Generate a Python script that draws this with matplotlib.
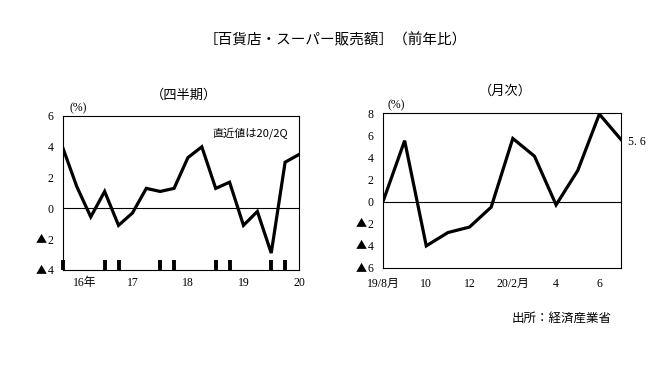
import matplotlib
matplotlib.use("Agg")
import matplotlib.pyplot as plt

plt.rcParams['font.family'] = ['Liberation Serif', 'Noto Sans CJK JP', 'DejaVu Sans']

# Quarterly data (16/1Q .. 20/2Q)
q_values = [3.9, 1.4, -0.55, 1.1, -1.1, -0.3, 1.3, 1.1, 1.3, 3.3, 4.0, 1.3, 1.7, -1.1, -0.2, -2.9, 3.0, 3.5]
q_label_idx = [1, 5, 9, 13, 17]
q_labels = ["16年", "17", "18", "19", "20"]
q_mark_idx = [0, 3, 4, 7, 8, 11, 12, 15, 16]
q_yticks = [-4, -2, 0, 2, 4, 6]
q_yticklabels = ["▲4", "▲2", "0", "2", "4", "6"]

# Monthly data (19/8 .. 20/7)
m_values = [0.0, 5.5, -4.0, -2.8, -2.3, -0.5, 5.7, 4.1, -0.3, 2.8, 7.9, 5.6]
m_label_idx = [0, 2, 4, 6, 8, 10]
m_labels = ["19/8月", "10", "12", "20/2月", "4", "6"]
m_yticks = [-6, -4, -2, 0, 2, 4, 6, 8]
m_yticklabels = ["▲6", "▲4", "▲2", "0", "2", "4", "6", "8"]

W, H = 672, 366
fig = plt.figure(figsize=(W / 100, H / 100), dpi=100)

def px_axes(x0, y0, x1, y1):
    return fig.add_axes([x0 / W, 1 - y1 / H, (x1 - x0) / W, (y1 - y0) / H])

fs_tick = 8.5
jp = ['Noto Sans CJK JP', 'DejaVu Sans']
PAD_PT = 7

def set_y_labels(ax, ticks, labels):
    ax.set_yticks(ticks)
    ax.set_yticklabels([l.lstrip("▲") for l in labels], fontsize=fs_tick)
    ax.tick_params(axis='y', length=0, pad=PAD_PT)
    tr = ax.get_yaxis_transform()
    for t, l in zip(ticks, labels):
        if l.startswith("▲"):
            ax.annotate("▲", xy=(0, t), xycoords=tr, xytext=(-PAD_PT - 5, -0.5),
                        textcoords='offset points', ha='right', va='center',
                        fontsize=8, family=jp, annotation_clip=False)

# ---- Left: quarterly ----
ax1 = px_axes(63, 116, 299, 270)
ax1.plot(range(len(q_values)), q_values, color='black', lw=2.3, solid_joinstyle='miter')
ax1.axhline(0, color='black', lw=0.8)
ax1.set_xlim(0, len(q_values) - 1)
ax1.set_ylim(-4, 6)
set_y_labels(ax1, q_yticks, q_yticklabels)
shift = [0.55, 0, 0, 0, 0]
ax1.set_xticks([i + s for i, s in zip(q_label_idx, shift)])
ax1.set_xticklabels(q_labels, fontsize=fs_tick)
ax1.set_xticks(q_mark_idx, minor=True)
ax1.tick_params(axis='x', which='major', length=0, pad=5)
ax1.tick_params(axis='x', which='minor', direction='in', length=7, width=2.8, color='black')
for sp in ax1.spines.values():
    sp.set_linewidth(0.8)
ax1.text(184 / W, 1 - 95 / H, "（四半期）", transform=fig.transFigure, ha='center', va='center',
         fontsize=9.5, family=jp)
ax1.text(78 / W, 1 - 108 / H, "(%)", transform=fig.transFigure, ha='center', va='center', fontsize=8.5)
ax1.text(288 / W, 1 - 133 / H, "直近値は20/2Q", transform=fig.transFigure, ha='right', va='center',
         fontsize=8, family=jp)

# ---- Right: monthly ----
ax2 = px_axes(383, 113, 621, 268)
ax2.plot(range(len(m_values)), m_values, color='black', lw=2.3, solid_joinstyle='miter')
ax2.axhline(0, color='black', lw=0.8)
ax2.set_xlim(0, len(m_values) - 1)
ax2.set_ylim(-6, 8)
set_y_labels(ax2, m_yticks, m_yticklabels)
ax2.set_xticks(m_label_idx)
ax2.set_xticklabels(m_labels, fontsize=fs_tick)
ax2.tick_params(axis='x', length=0, pad=7)
for sp in ax2.spines.values():
    sp.set_linewidth(0.8)
ax2.text(505 / W, 1 - 91 / H, "（月次）", transform=fig.transFigure, ha='center', va='center',
         fontsize=9.5, family=jp)
ax2.text(396 / W, 1 - 105 / H, "(%)", transform=fig.transFigure, ha='center', va='center', fontsize=8.5)
ax2.text(628 / W, 1 - 142 / H, "5. 6", transform=fig.transFigure, ha='left', va='center', fontsize=8.5)

# ---- Titles / notes ----
fig.text(335 / W, 1 - 40 / H, "［百貨店・スーパー販売額］（前年比）", ha='center', va='center',
         fontsize=10.5, family=jp)
fig.text(512 / W, 1 - 318 / H, "出所：経済産業省", ha='left', va='center', fontsize=9, family=jp)

fig.savefig("out.png", dpi=100)
